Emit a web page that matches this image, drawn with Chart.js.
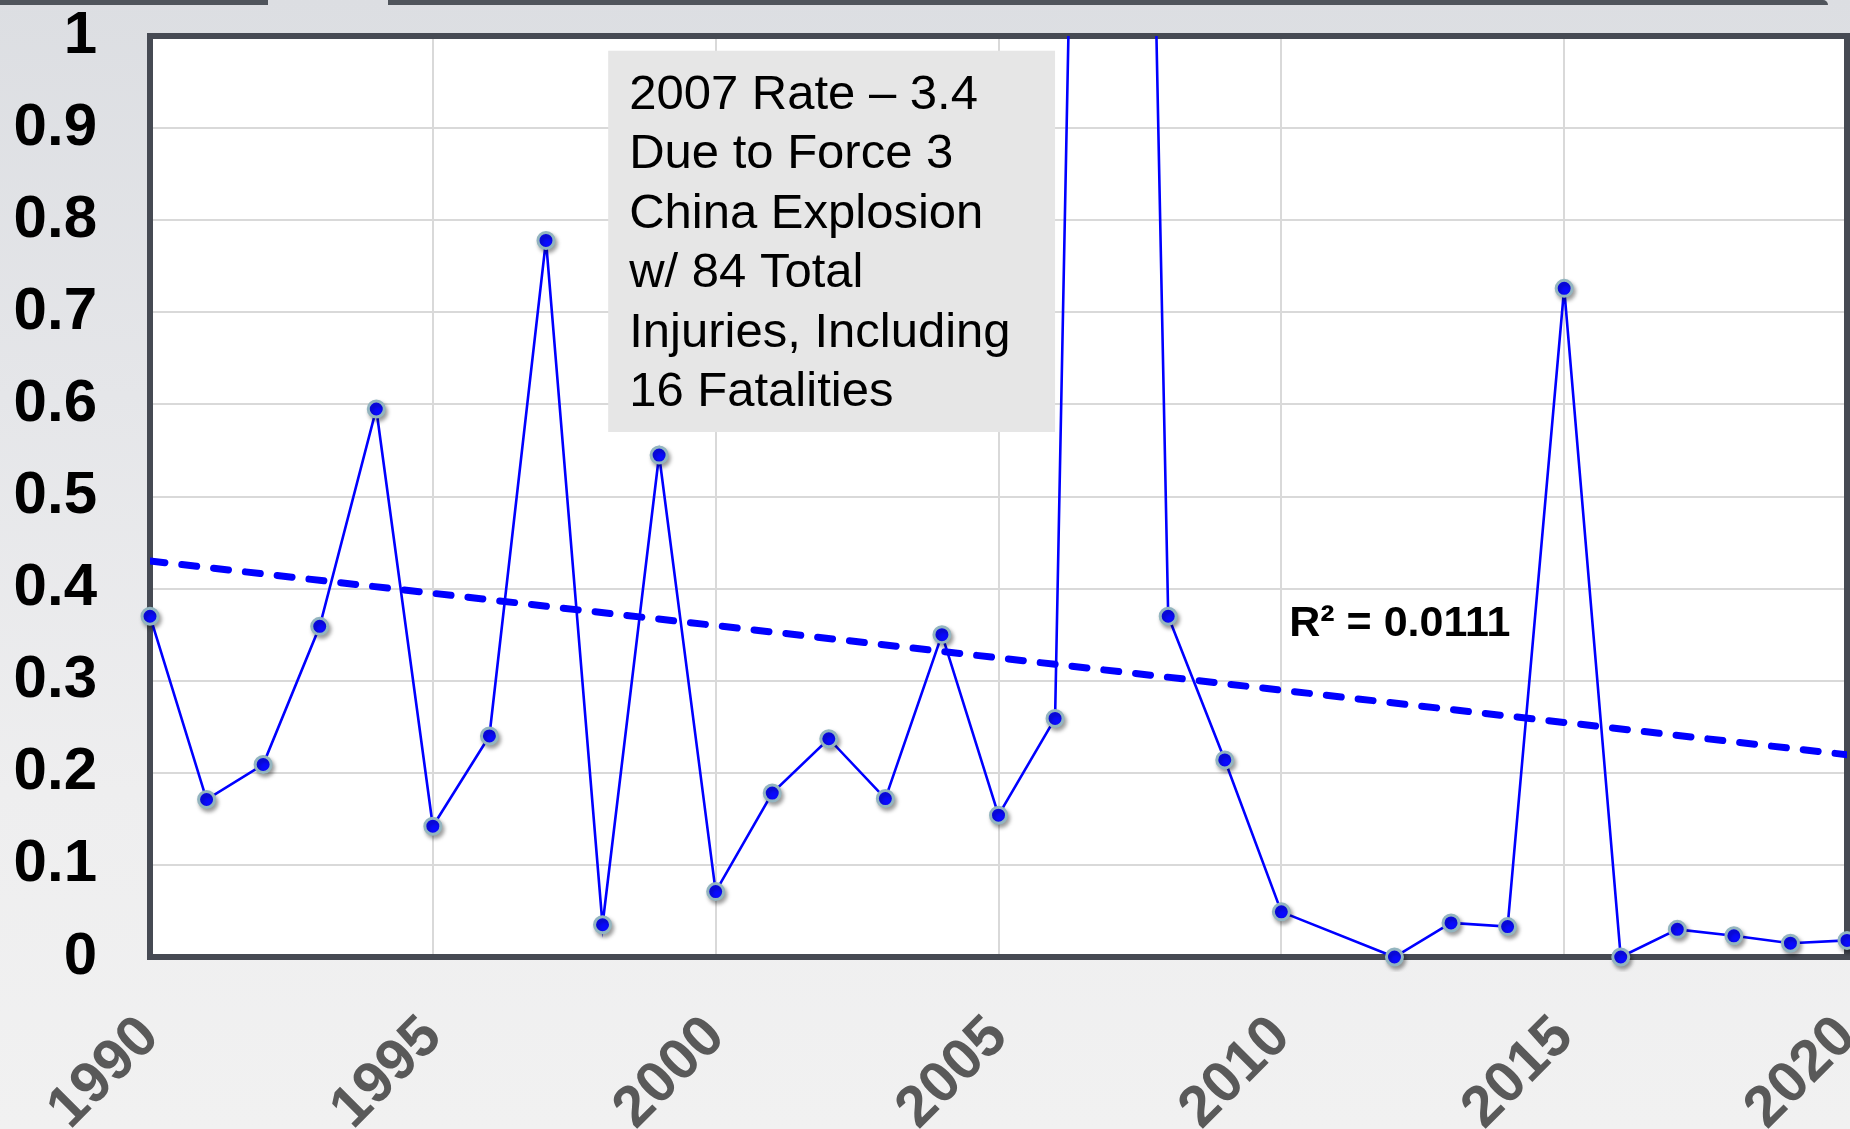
<!DOCTYPE html>
<html>
<head>
<meta charset="utf-8">
<script src="https://cdn.jsdelivr.net/npm/chart.js@4/dist/chart.umd.min.js"></script>
<style>
  html, body { margin: 0; padding: 0; }
  body {
    width: 1850px;
    height: 1129px;
    overflow: hidden;
    position: relative;
    background: linear-gradient(#dcdee2 0%, #e5e6e9 35%, #eeeeef 70%, #f1f1f1 100%);
    font-family: 'Liberation Sans', Arial, sans-serif;
  }
  .strip { position: absolute; top: 0; height: 5px; background: #4f545b; }
  #chart { position: absolute; left: 0; top: 0; }
</style>
</head>
<body>
<div class="strip" style="left:0;width:268px;"></div>
<div class="strip" style="left:388px;width:1440px;border-top-right-radius:6px;"></div>
<!-- a little wider than the window: the layout keeps ~11px on the right for the last rotated label -->
<canvas id="chart" width="1858" height="1129"></canvas>
<script>
// incident rate per year (2011 has no value, 2007 runs off the top)
const years = [
  1990, 1991, 1992, 1993, 1994, 1995, 1996, 1997, 1998, 1999,
  2000, 2001, 2002, 2003, 2004, 2005, 2006, 2007, 2008, 2009,
  2010, 2011, 2012, 2013, 2014, 2015, 2016, 2017, 2018, 2019, 2020,
];
const rates = [
  0.370, 0.171, 0.209, 0.359, 0.595, 0.142, 0.240, 0.778, 0.035, 0.545,
  0.071, 0.178, 0.237, 0.172, 0.350, 0.154, 0.259, 3.4, 0.370, 0.214,
  0.049, null, 0.0, 0.037, 0.033, 0.726, 0.0, 0.030, 0.023, 0.015, 0.018,
];

const trendYears = [1990, 2020];
const trendValues = [0.430, 0.2196];

const yTicks = [0, 0.1, 0.2, 0.3, 0.4, 0.5, 0.6, 0.7, 0.8, 0.9, 1];
const xTicks = [1990, 1995, 2000, 2005, 2010, 2015, 2020];

const noteLines = [
  '2007 Rate \u2013 3.4',
  'Due to Force 3',
  'China Explosion',
  'w/ 84 Total',
  'Injuries, Including',
  '16 Fatalities',
];
const r2Label = 'R\u00B2 = 0.0111';

const FONT = "'Liberation Sans', Arial, sans-serif";

const ratePoints = years.map((yr, i) => ({ x: yr, y: rates[i] }));
const trendPoints = trendYears.map((yr, i) => ({ x: yr, y: trendValues[i] }));

// white plot area + dark frame
const framePlugin = {
  id: 'frame',
  beforeDraw(chart) {
    const { ctx, chartArea: a } = chart;
    ctx.save();
    ctx.fillStyle = '#ffffff';
    ctx.fillRect(a.left, a.top, a.right - a.left, a.bottom - a.top);
    ctx.restore();
  },
  beforeDatasetsDraw(chart) {
    const { ctx, chartArea: a } = chart;
    ctx.save();
    ctx.strokeStyle = '#464a53';
    ctx.lineWidth = 6;
    ctx.strokeRect(a.left, a.top, a.right - a.left, a.bottom - a.top);
    ctx.restore();
  },
};

// soft drop shadow under the markers only
const shadowPlugin = {
  id: 'markerShadow',
  beforeDatasetDraw(chart, args) {
    if (args.index !== 2) return;
    const ctx = chart.ctx;
    ctx.save();
    ctx.shadowColor = 'rgba(0, 0, 0, 0.35)';
    ctx.shadowBlur = 4;
    ctx.shadowOffsetX = 2;
    ctx.shadowOffsetY = 3;
  },
  afterDatasetDraw(chart, args) {
    if (args.index !== 2) return;
    chart.ctx.restore();
  },
};

// callout box and R² text
const notesPlugin = {
  id: 'notes',
  afterDatasetsDraw(chart) {
    const { ctx, scales } = chart;
    const x = scales.x;
    const y = scales.y;

    const left = x.getPixelForValue(1998.1);
    const right = x.getPixelForValue(2006.0);
    const top = y.getPixelForValue(0.984);
    const bottom = y.getPixelForValue(0.57);

    ctx.save();
    ctx.fillStyle = '#e6e6e6';
    ctx.fillRect(left, top, right - left, bottom - top);

    ctx.fillStyle = '#000000';
    ctx.font = `49px ${FONT}`;
    ctx.textAlign = 'left';
    ctx.textBaseline = 'alphabetic';
    noteLines.forEach((line, i) => {
      ctx.fillText(line, left + 21, top + 58 + i * 59.5);
    });

    ctx.font = `bold 43px ${FONT}`;
    ctx.fillText(r2Label, x.getPixelForValue(2010.14), y.getPixelForValue(0.349));
    ctx.restore();
  },
};

new Chart(document.getElementById('chart'), {
  type: 'line',
  data: {
    datasets: [
      {
        label: 'Linear trend',
        data: trendPoints,
        borderColor: '#0000ff',
        borderWidth: 7,
        borderDash: [15, 17],
        borderCapStyle: 'round',
        pointRadius: 0,
        fill: false,
        order: 0,
      },
      {
        label: 'Rate',
        data: ratePoints,
        borderColor: '#0000ff',
        borderWidth: 2.6,
        pointRadius: 0,
        spanGaps: true,
        fill: false,
        tension: 0,
        clip: { left: 10, top: 0, right: 10, bottom: 10 },
        order: 2,
      },
      {
        label: 'Rate markers',
        data: ratePoints,
        showLine: false,
        pointRadius: 8,
        pointBorderWidth: 3,
        pointBackgroundColor: '#0a0aff',
        pointBorderColor: '#93b5bf',
        clip: { left: 15, top: 0, right: 15, bottom: 15 },
        order: 1,
      },
    ],
  },
  options: {
    responsive: false,
    animation: false,
    layout: { padding: { top: 36, right: 3, bottom: 0, left: 0 } },
    scales: {
      x: {
        type: 'linear',
        min: 1990,
        max: 2020,
        afterBuildTicks: (scale) => { scale.ticks = xTicks.map((v) => ({ value: v })); },
        afterFit: (scale) => {
          scale.height = 172;
          scale.paddingLeft = 0;
          scale.paddingRight = 0;
        },
        grid: { color: '#d9d9d9', lineWidth: 2, drawTicks: false },
        border: { display: false },
        ticks: {
          minRotation: 45,
          maxRotation: 45,
          padding: 46,
          labelOffset: 0,
          color: '#595959',
          font: { family: FONT, size: 58, weight: 'bold' },
          callback: (v) => String(v),
        },
      },
      y: {
        min: 0,
        max: 1,
        afterBuildTicks: (scale) => { scale.ticks = yTicks.map((v) => ({ value: v })); },
        afterFit: (scale) => {
          scale.width = 150;
          scale.paddingTop = 0;
          scale.paddingBottom = 0;
        },
        grid: { color: '#d9d9d9', lineWidth: 2, drawTicks: false },
        border: { display: false },
        ticks: {
          padding: 53,
          color: '#000000',
          font: { family: FONT, size: 60, weight: 'bold' },
          callback: (v) => String(v),
        },
      },
    },
    plugins: {
      legend: { display: false },
      tooltip: { enabled: false },
    },
  },
  plugins: [framePlugin, shadowPlugin, notesPlugin],
});
</script>
</body>
</html>
